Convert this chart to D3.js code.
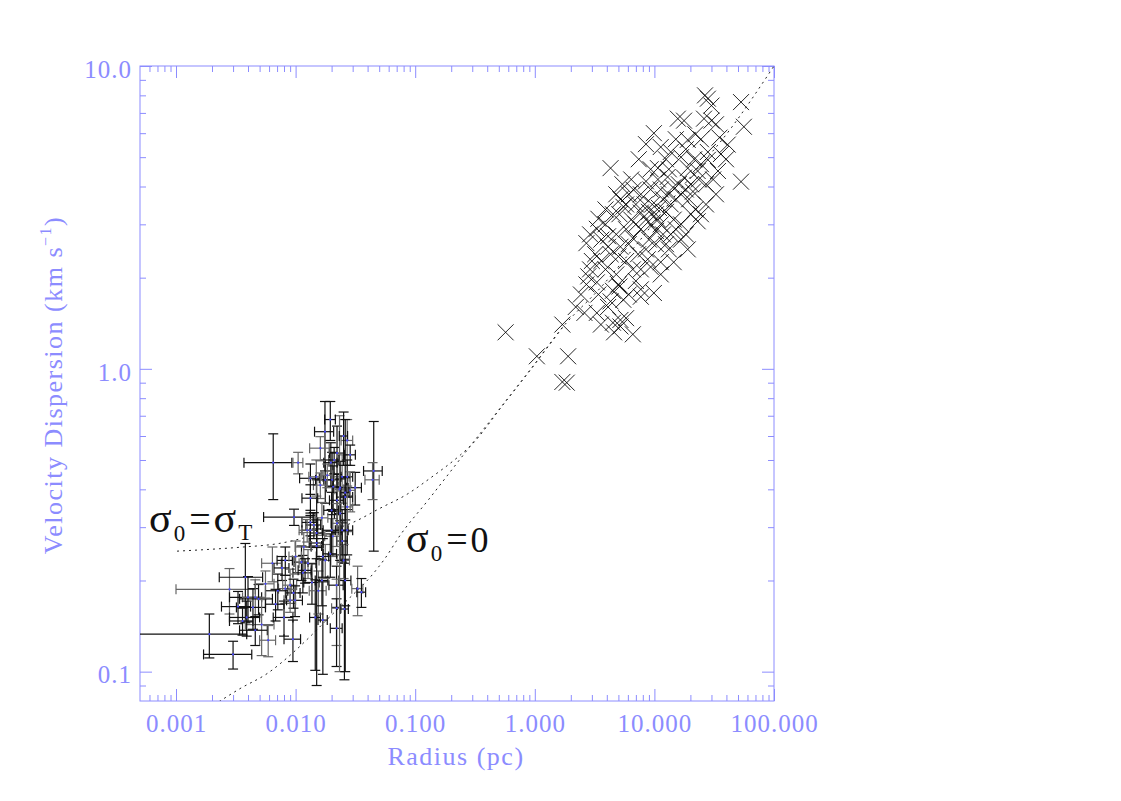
<!DOCTYPE html>
<html>
<head>
<meta charset="utf-8">
<script src="https://cdn.jsdelivr.net/npm/d3@7"></script>
<style>
  body { margin: 0; background: #fff; }
</style>
</head>
<body>
<div id="chart"></div>
<script>
// ---- data ----
// cores (error-bar points): radius (pc) +- err, velocity dispersion (km/s) +- err
var coreR    = [0.0065,0.0105,0.0176,0.045,0.044,0.0019,0.0030,0.0028,0.0038,0.0040,0.0046,0.0049,0.0044,0.0052,0.0039,0.0033,0.0064,0.0077,0.0080,0.0082,0.0071,0.0095,0.0090,0.0096,0.0099,0.0090,0.0112,0.0115,0.0127,0.0137,0.0146,0.0155,0.0166,0.0150,0.0177,0.022,0.026,0.022,0.0256,0.022,0.033,0.0355,0.027,0.0205,0.0245,0.0133,0.0117,0.015,0.0169,0.0252,0.0195,0.0222,0.027,0.0197,0.0133,0.0149,0.0177,0.0202,0.0245,0.027,0.0315,0.0286,0.0236,0.0206,0.0161,0.026,0.0222,0.027,0.0236,0.020,0.0166,0.0142,0.0133,0.0222,0.020,0.015,0.0125,0.0245,0.0097,0.0233,0.026,0.0169,0.0056,0.0036,0.0046,0.0059,0.0068,0.0082,0.0100,0.0120,0.021,0.0161,0.0286,0.0133,0.0184,0.0195,0.0252];
var coreRErr = [0.0028,0.0010,0.0032,0.008,0.006,0.0020,0.0013,0.0018,0.0015,0.0012,0.0010,0.0015,0.0012,0.0014,0.0011,0.0009,0.0012,0.0011,0.0015,0.0010,0.0015,0.0015,0.0012,0.0013,0.0015,0.0010,0.0015,0.0020,0.0020,0.0020,0.0015,0.0025,0.0020,0.0015,0.0020,0.003,0.003,0.002,0.002,0.0025,0.0035,0.003,0.003,0.003,0.0025,0.002,0.0018,0.002,0.002,0.003,0.0025,0.003,0.003,0.0025,0.0025,0.002,0.003,0.003,0.0035,0.003,0.004,0.003,0.003,0.0025,0.002,0.004,0.003,0.003,0.0025,0.0028,0.002,0.002,0.002,0.0025,0.003,0.0018,0.0018,0.003,0.0043,0.002,0.002,0.0015,0.0010,0.0008,0.0012,0.0009,0.0012,0.0012,0.0012,0.0015,0.002,0.003,0.003,0.002,0.002,0.002,0.002];
var coreS    = [0.49,0.49,0.62,0.46,0.43,0.133,0.114,0.187,0.205,0.176,0.176,0.174,0.163,0.143,0.151,0.164,0.228,0.22,0.151,0.188,0.185,0.128,0.193,0.182,0.172,0.172,0.23,0.212,0.228,0.197,0.151,0.185,0.20,0.26,0.233,0.193,0.20,0.162,0.161,0.139,0.188,0.183,0.293,0.28,0.27,0.293,0.258,0.266,0.24,0.233,0.245,0.527,0.58,0.49,0.435,0.44,0.43,0.43,0.44,0.44,0.405,0.397,0.405,0.408,0.413,0.377,0.368,0.35,0.333,0.341,0.322,0.305,0.311,0.309,0.293,0.287,0.293,0.293,0.324,0.40,0.39,0.148,0.195,0.147,0.137,0.127,0.167,0.233,0.24,0.216,0.50,0.547,0.52,0.374,0.445,0.68,0.60];
var coreSErr = [0.12,0.04,0.16,0.21,0.06,0.022,0.012,0.032,0.06,0.03,0.025,0.02,0.025,0.03,0.02,0.02,0.03,0.02,0.02,0.02,0.025,0.02,0.025,0.02,0.02,0.015,0.03,0.03,0.025,0.03,0.05,0.03,0.035,0.17,0.03,0.03,0.035,0.04,0.067,0.035,0.035,0.02,0.05,0.04,0.04,0.035,0.03,0.03,0.035,0.03,0.04,0.12,0.10,0.08,0.05,0.06,0.07,0.10,0.08,0.06,0.05,0.06,0.09,0.07,0.04,0.06,0.08,0.06,0.10,0.05,0.04,0.03,0.03,0.05,0.05,0.03,0.025,0.05,0.02,0.30,0.29,0.05,0.02,0.015,0.015,0.015,0.02,0.025,0.03,0.02,0.05,0.05,0.04,0.04,0.04,0.10,0.12];

// clouds (X symbols)
var cloudR = [0.57,1.04,1.9,1.7,1.85,1.7,2.2,2.6,3.3,4.1,4.6,4.5,6.6,5.2,2.7,2.9,2.8,3.3,2.7,3.3,4.3,53,53,56,28,30,26.5,35,30,26,15.7,17.7,9.9,19,11.3,13.7,16.7,28,28,34,10.7,12.9,19,23,6.7,7.7,9.9,7.7,9.3,11.3,5.2,4.1,5.0,7.3,8.8,19,16.7,14.5,10.7,7.7,5.5,6.4,4.1,4.3,5.0,5.1,5.8,5.2,3.6,3.9,4.5,4.8,5.8,6.1,6.6,7.0,7.7,8.5,9.0,9.35,9.6,10.3,10.9,11.3,11.8,12.5,13.2,13.7,14.3,15.1,16,16.7,17.7,18.3,19.5,20.2,21,22,23.5,24.5,21.5,18.3,15.1,12.5,9.3,8.5,9.3,7.7,7.0,6.1,5.2,5.1,3.9,3.4,4.3,3.6,3.2,3.9,4.8,5.8,6.6,7.7,7.0,6.1,5.5,4.5,10.3,12.5,13.7,11.8,9.0,10.3,16.7,20.2,24.5,27,23,15.1,18.3,13.2,8.5,8.3,11.3,10.7,13.2,31,32.7,27,36,39.7,22,24.5,32.7,41,6.4,5.4,4.8,7.4,8.5,5.8,2.9,3.4,3.0,14.5,11.3,3.57,2.43];
var cloudS = [1.32,1.10,1.10,0.905,0.90,1.40,1.60,1.53,1.53,1.60,1.32,1.42,1.30,1.45,1.90,2.13,2.02,1.93,2.6,2.9,4.6,4.15,7.6,6.3,7.8,7.4,8.0,5.8,6.6,6.7,6.7,6.6,6.0,5.7,5.4,5.2,5.0,5.2,4.9,4.5,4.6,4.3,4.6,4.5,3.9,1.83,1.78,1.73,2.17,2.25,2.53,2.53,2.35,2.39,2.30,2.48,2.67,3.11,3.11,3.28,3.43,3.11,2.74,1.67,1.90,1.87,1.47,1.38,2.67,3.0,3.24,2.78,2.89,2.58,2.7,3.0,2.89,3.11,3.3,3.0,3.49,3.24,3.4,3.0,3.63,3.3,3.77,3.49,3.97,3.63,4.07,3.77,4.28,3.91,3.63,4.07,3.85,3.36,4.22,4.74,4.92,5.31,5.73,4.92,4.56,4.16,3.91,3.77,3.49,3.77,3.63,3.24,3.36,3.13,2.39,2.27,2.39,2.13,2.05,2.27,2.13,2.13,1.95,1.76,1.69,1.81,2.58,2.58,2.78,2.78,2.67,2.85,3.0,3.24,3.24,3.49,3.07,2.89,2.78,2.48,2.48,3.49,3.91,4.22,4.56,4.22,3.77,4.07,5.12,4.92,5.95,5.73,6.42,5.5,4.22,4.07,3.77,4.92,5.52,3.49,2.78,1.76,2.27,2.25,2.05,1.40,1.76];

// model curves (dotted), read at points along the lines
var curveZeroR = [0.00229,0.00343,0.00577,0.00953,0.0132,0.0194,0.0286,0.042,0.0561,0.0748,0.128,0.289,0.566,0.917,1.73,3.53,7.64,16.5,42.5,100];
var curveZeroS = [0.0796,0.0879,0.0985,0.1156,0.1305,0.152,0.176,0.205,0.237,0.282,0.368,0.556,0.778,0.992,1.38,1.85,2.67,3.92,6.14,10];
var curveThermR = [0.00102,0.00193,0.00343,0.00742,0.016,0.0303,0.0509,0.0857,0.1335,0.238,0.289,0.566,0.917,1.73];
var curveThermS = [0.250,0.2535,0.2575,0.2654,0.2864,0.3113,0.3465,0.3855,0.4355,0.519,0.556,0.778,0.992,1.38];

var xMajor = [0.001, 0.01, 0.1, 1, 10, 100];
var yMajor = [0.1, 1, 10];

// ---- layout ----
var W = 1121, H = 801;
var axisColor = "#8c8cff";
var font = "Liberation Serif, DejaVu Serif, serif";

var svg = d3.select("#chart").append("svg")
    .attr("width", W)
    .attr("height", H)
    .style("background", "#fff");

var x = d3.scaleLog().domain([0.0005, 100]).range([140, 774]);
var y = d3.scaleLog().domain([0.08, 10]).range([701, 66]);

function isMajor(v) {
    var l = Math.log10(v);
    return Math.abs(l - Math.round(l)) < 1e-6;
}
var xMinor = x.ticks().filter(function(v) { return !isMajor(v) && v > 0.00051; });
var yMinor = y.ticks().filter(function(v) { return !isMajor(v) && v > 0.0801; });

svg.append("defs").append("clipPath").attr("id", "plotclip")
  .append("rect").attr("x", 140).attr("y", 66).attr("width", 634).attr("height", 635);

// axes
function styleAxis(g) {
    g.select(".domain").remove();
    g.selectAll("line").attr("stroke", axisColor).attr("stroke-width", 1);
    g.attr("font-family", font).attr("font-size", 25);
    g.selectAll("text").attr("fill", axisColor).style("letter-spacing", "1px");
}

svg.append("g").attr("transform", "translate(0,701)")
    .call(d3.axisBottom(x).tickValues(xMajor).tickSize(-12).tickPadding(13).tickFormat(d3.format(".3f")))
    .call(styleAxis);
svg.append("g").attr("transform", "translate(0,701)")
    .call(d3.axisBottom(x).tickValues(xMinor).tickSize(-6).tickFormat(""))
    .call(styleAxis);
svg.append("g").attr("transform", "translate(0,66)")
    .call(d3.axisTop(x).tickValues(xMajor).tickSize(-12).tickFormat(""))
    .call(styleAxis);
svg.append("g").attr("transform", "translate(0,66)")
    .call(d3.axisTop(x).tickValues(xMinor).tickSize(-6).tickFormat(""))
    .call(styleAxis);

svg.append("g").attr("transform", "translate(140,0)")
    .call(d3.axisLeft(y).tickValues(yMajor).tickSize(-12).tickPadding(8).tickFormat(d3.format(".1f")))
    .call(styleAxis)
    .selectAll("text").attr("dy", "0.45em");
svg.append("g").attr("transform", "translate(140,0)")
    .call(d3.axisLeft(y).tickValues(yMinor).tickSize(-6).tickFormat(""))
    .call(styleAxis);
svg.append("g").attr("transform", "translate(774,0)")
    .call(d3.axisRight(y).tickValues(yMajor).tickSize(-12).tickFormat(""))
    .call(styleAxis);
svg.append("g").attr("transform", "translate(774,0)")
    .call(d3.axisRight(y).tickValues(yMinor).tickSize(-6).tickFormat(""))
    .call(styleAxis);

svg.append("rect")
    .attr("x", 140).attr("y", 66).attr("width", 634).attr("height", 635)
    .attr("fill", "none").attr("stroke", axisColor).attr("stroke-width", 1);

// axis titles
svg.append("text")
    .attr("x", 456).attr("y", 765)
    .attr("text-anchor", "middle")
    .attr("font-family", font).attr("font-size", 26)
    .style("letter-spacing", "1.5px")
    .attr("fill", axisColor)
    .text("Radius (pc)");

var yt = svg.append("text")
    .attr("transform", "translate(62,385) rotate(-90)")
    .attr("text-anchor", "middle")
    .attr("font-family", font).attr("font-size", 26)
    .style("letter-spacing", "1.5px")
    .attr("fill", axisColor);
yt.append("tspan").text("Velocity Dispersion (km s");
yt.append("tspan").attr("font-size", 16).attr("dy", -11).text("\u22121");
yt.append("tspan").attr("dy", 11).text(")");

// plot layer
var plot = svg.append("g").attr("clip-path", "url(#plotclip)");

// model curves
var line = d3.line()
    .x(function(d) { return x(d[0]); })
    .y(function(d) { return y(d[1]); })
    .curve(d3.curveMonotoneX);

plot.append("path")
    .datum(curveZeroR.map(function(r, i) { return [r, curveZeroS[i]]; }))
    .attr("d", line)
    .attr("fill", "none").attr("stroke", "#222").attr("stroke-width", 1)
    .attr("stroke-dasharray", "2,4");
plot.append("path")
    .datum(curveThermR.map(function(r, i) { return [r, curveThermS[i]]; }))
    .attr("d", line)
    .attr("fill", "none").attr("stroke", "#222").attr("stroke-width", 1)
    .attr("stroke-dasharray", "2,4");

// clouds: X symbols
var cloudData = cloudR.map(function(r, i) { return {r: r, s: cloudS[i]}; });
plot.selectAll("path.cloud")
    .data(cloudData)
    .enter().append("path")
    .attr("class", "cloud")
    .attr("transform", function(d) { return "translate(" + x(d.r) + "," + y(d.s) + ")"; })
    .attr("d", "M-8,-8L8,8M-8,8L8,-8")
    .attr("fill", "none")
    .attr("stroke", "#000")
    .attr("stroke-width", 1)
    .attr("opacity", 0.85);

// cores: error bars
var coreData = coreR.map(function(r, i) {
    return {r: r, dr: coreRErr[i], s: coreS[i], ds: coreSErr[i], k: i};
});
var cap = 5;
var bars = plot.selectAll("g.core")
    .data(coreData)
    .enter().append("g")
    .attr("class", "core")
    .attr("stroke", function(d) { return d.k % 3 === 1 ? "#666" : "#111"; })
    .attr("stroke-width", 1.2)
    .attr("fill", "none");

bars.each(function(d) {
    var g = d3.select(this);
    var cx = x(d.r), cy = y(d.s);
    var x0 = d.r - d.dr > 0 ? x(d.r - d.dr) : 100;
    var x1 = x(d.r + d.dr);
    var y0 = d.s - d.ds > 0 ? y(d.s - d.ds) : 760;
    var y1 = y(d.s + d.ds);
    g.append("line").attr("x1", x0).attr("x2", x1).attr("y1", cy).attr("y2", cy);
    g.append("line").attr("x1", x0).attr("x2", x0).attr("y1", cy - cap).attr("y2", cy + cap);
    g.append("line").attr("x1", x1).attr("x2", x1).attr("y1", cy - cap).attr("y2", cy + cap);
    g.append("line").attr("x1", cx).attr("x2", cx).attr("y1", y0).attr("y2", y1);
    g.append("line").attr("x1", cx - cap).attr("x2", cx + cap).attr("y1", y0).attr("y2", y0);
    g.append("line").attr("x1", cx - cap).attr("x2", cx + cap).attr("y1", y1).attr("y2", y1);
});

plot.selectAll("circle.dot")
    .data(coreData)
    .enter().append("circle")
    .attr("class", "dot")
    .attr("cx", function(d) { return x(d.r); })
    .attr("cy", function(d) { return y(d.s); })
    .attr("r", 1.1)
    .attr("fill", "#4848ff");

// curve labels
function sigmaLabel(xp, yp, subA, parts, subB) {
    var t = svg.append("text")
        .attr("x", xp).attr("y", yp)
        .attr("font-family", font)
        .attr("fill", "#111");
    t.append("tspan").attr("font-size", 42).text("\u03c3");
    t.append("tspan").attr("font-size", 23).attr("dx", 2).attr("dy", 9).text(subA);
    t.append("tspan").attr("font-size", 38).attr("dx", 4).attr("dy", -9).text("=");
    t.append("tspan").attr("font-size", parts === "\u03c3" ? 42 : 36).attr("dx", 3).text(parts);
    if (subB) {
        t.append("tspan").attr("font-size", 23).attr("dx", 2).attr("dy", 8).text(subB);
    }
}
sigmaLabel(149, 532, "0", "\u03c3", "T");
sigmaLabel(406, 552, "0", "0", null);
</script>
</body>
</html>
